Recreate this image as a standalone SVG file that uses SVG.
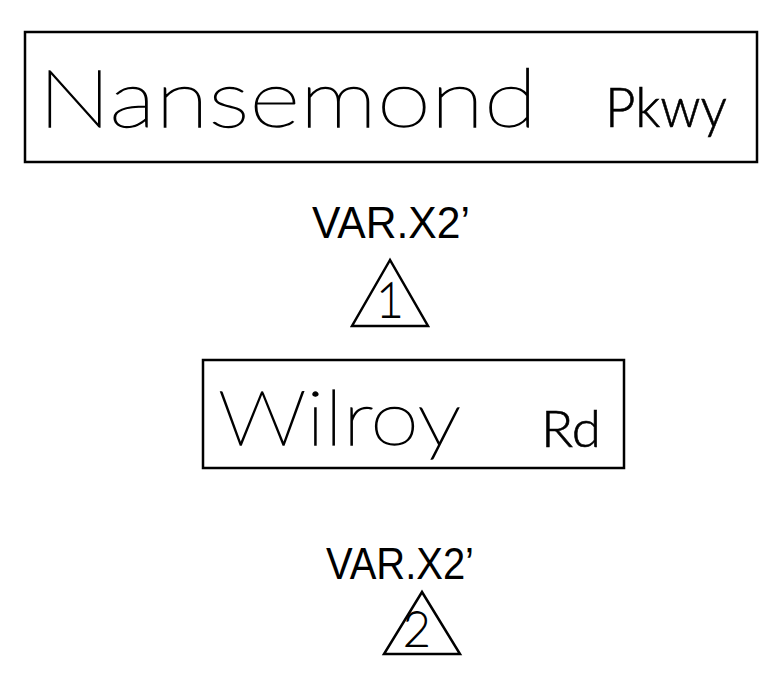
<svg xmlns="http://www.w3.org/2000/svg" width="784" height="676" viewBox="0 0 784 676">
<style>
.frame{fill:none;stroke:#000;stroke-width:2.5}
.thin{font-family:Lato,Inter,"DejaVu Sans",sans-serif;font-weight:200;fill:#000;stroke:#000;stroke-width:1.3}
.mid{font-family:Lato,"Liberation Sans",sans-serif;font-weight:300;fill:#000;stroke:#000;stroke-width:0.6}
.sans{font-family:"Liberation Sans",Arial,sans-serif;fill:#000}
.dig{font-family:Lato,"Liberation Sans",sans-serif;font-weight:200;fill:#000;stroke:#000;stroke-width:1.8;text-anchor:middle}
</style>
<rect width="784" height="676" fill="#fff"/>
<g id="nansemond">
<rect class="frame" x="25" y="32" width="732" height="130"/>
<text class="thin" x="38" y="127" font-size="80" textLength="499" lengthAdjust="spacingAndGlyphs">Nansemond</text>
<text class="mid" x="605" y="127" font-size="56" textLength="122" lengthAdjust="spacingAndGlyphs">Pkwy</text>
</g>
<g id="label1">
<text class="sans" x="312" y="238" font-size="44" textLength="158" lengthAdjust="spacingAndGlyphs">VAR.X2’</text>
<polygon class="frame" points="390,260 352,326 428,326"/>
<text class="dig" x="390" y="317" font-size="47">1</text>
</g>
<g id="wilroy">
<rect class="frame" x="203" y="360" width="421" height="108"/>
<text class="thin" x="218" y="445" font-size="77" textLength="243" lengthAdjust="spacingAndGlyphs">Wilroy</text>
<text class="mid" x="541" y="447" font-size="52" textLength="60" lengthAdjust="spacingAndGlyphs">Rd</text>
</g>
<g id="label2">
<text class="sans" x="326" y="579" font-size="44" textLength="148" lengthAdjust="spacingAndGlyphs">VAR.X2’</text>
<polygon class="frame" points="422,592 384,654 460,654"/>
<text class="dig" x="417" y="646" font-size="47">2</text>
</g>
<g id="connectors"></g>
</svg>
